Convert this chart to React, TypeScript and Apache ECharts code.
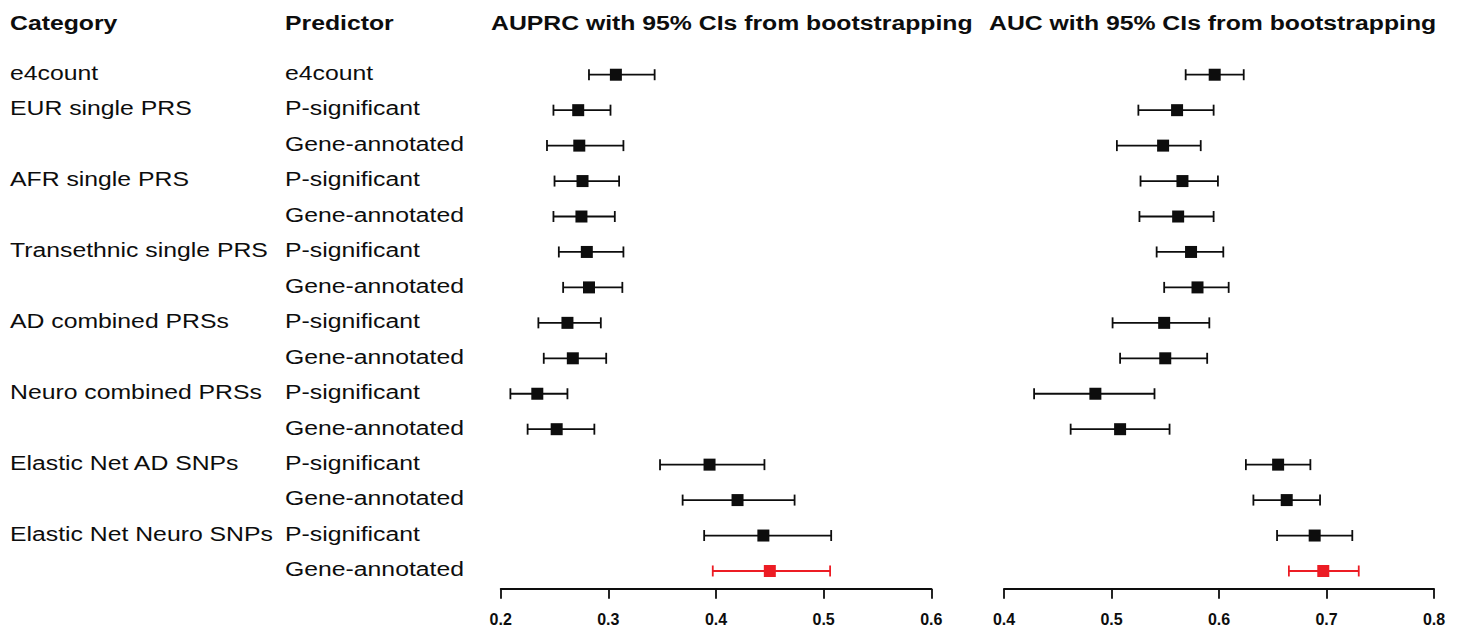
import React, { useEffect, useRef } from "react";
import * as echarts from "echarts";

// ---------- data ----------
const categoryLabels = [
  "e4count",
  "EUR single PRS",
  "",
  "AFR single PRS",
  "",
  "Transethnic single PRS",
  "",
  "AD combined PRSs",
  "",
  "Neuro combined PRSs",
  "",
  "Elastic Net AD SNPs",
  "",
  "Elastic Net Neuro SNPs",
  "",
];
const predictorLabels = [
  "e4count",
  "P-significant",
  "Gene-annotated",
  "P-significant",
  "Gene-annotated",
  "P-significant",
  "Gene-annotated",
  "P-significant",
  "Gene-annotated",
  "P-significant",
  "Gene-annotated",
  "P-significant",
  "Gene-annotated",
  "P-significant",
  "Gene-annotated",
];
const rowIds = predictorLabels.map((p, i) => `${i}:${p}`);

const auprcMid = [0.307, 0.272, 0.273, 0.276, 0.275, 0.280, 0.282, 0.262, 0.267, 0.234, 0.252, 0.394, 0.420, 0.444, 0.450];
const auprcLow = [0.282, 0.249, 0.243, 0.250, 0.249, 0.254, 0.258, 0.235, 0.240, 0.209, 0.225, 0.348, 0.369, 0.389, 0.397];
const auprcHigh = [0.343, 0.302, 0.314, 0.310, 0.306, 0.314, 0.313, 0.293, 0.298, 0.262, 0.287, 0.445, 0.473, 0.507, 0.506];

const aucMid = [0.596, 0.561, 0.548, 0.566, 0.562, 0.574, 0.580, 0.549, 0.550, 0.485, 0.508, 0.655, 0.663, 0.689, 0.697];
const aucLow = [0.569, 0.525, 0.505, 0.527, 0.526, 0.542, 0.549, 0.501, 0.508, 0.428, 0.462, 0.625, 0.632, 0.654, 0.665];
const aucHigh = [0.623, 0.595, 0.583, 0.599, 0.595, 0.604, 0.609, 0.591, 0.589, 0.540, 0.554, 0.685, 0.694, 0.724, 0.730];

const auprcTicks = { min: 0.2, max: 0.6, interval: 0.1 };
const aucTicks = { min: 0.4, max: 0.8, interval: 0.1 };

const headers = {
  category: "Category",
  predictor: "Predictor",
  auprc: "AUPRC with 95% CIs from bootstrapping",
  auc: "AUC with 95% CIs from bootstrapping",
};

const HIGHLIGHT_ROW = 14;

// ---------- styles ----------
const BLACK = "#0d0d0d";
const RED = "#ec1c24";
const FONT = "Liberation Sans, Arial, sans-serif";
const STRETCH = 1.18;

export default function App() {
  const ref = useRef<HTMLDivElement>(null);

  useEffect(() => {
    const chart = echarts.init(ref.current!, null, { renderer: "svg" });

    const renderErr = (params: any, api: any) => {
      const lo = api.coord([api.value(0), api.value(3)]);
      const mid = api.coord([api.value(1), api.value(3)]);
      const hi = api.coord([api.value(2), api.value(3)]);
      const c = params.dataIndex === HIGHLIGHT_ROW ? RED : BLACK;
      const ls = { stroke: c, lineWidth: 1.8 };
      const cap = 5.5;
      const s = 6;
      return {
        type: "group",
        children: [
          { type: "line", shape: { x1: lo[0], y1: lo[1], x2: hi[0], y2: hi[1] }, style: ls },
          { type: "line", shape: { x1: lo[0], y1: lo[1] - cap, x2: lo[0], y2: lo[1] + cap }, style: ls },
          { type: "line", shape: { x1: hi[0], y1: hi[1] - cap, x2: hi[0], y2: hi[1] + cap }, style: ls },
          { type: "rect", shape: { x: mid[0] - s, y: mid[1] - s, width: 2 * s, height: 2 * s }, style: { fill: c } },
        ],
      };
    };

    const xAxisCommon = {
      type: "value",
      position: "bottom",
      splitLine: { show: false },
      axisLine: { show: true, onZero: false, lineStyle: { color: BLACK, width: 1.8 } },
      axisTick: { show: true, inside: false, length: 10, lineStyle: { color: BLACK, width: 1.8 } },
      axisLabel: {
        show: true,
        margin: 23,
        fontSize: 16,
        fontWeight: "bold",
        fontFamily: FONT,
        color: BLACK,
        formatter: (v: number) => v.toFixed(1),
      },
    };
    const yAxisCommon = {
      type: "category",
      data: rowIds,
      inverse: true,
      show: false,
      boundaryGap: true,
    };

    const option: any = {
      animation: false,
      backgroundColor: "#ffffff",
      grid: [
        { left: 500.7, width: 430.6, top: 57, height: 531.7 },
        { left: 1004, width: 430, top: 57, height: 531.7 },
      ],
      xAxis: [
        { ...xAxisCommon, gridIndex: 0, ...auprcTicks },
        { ...xAxisCommon, gridIndex: 1, ...aucTicks },
      ],
      yAxis: [
        { ...yAxisCommon, gridIndex: 0 },
        { ...yAxisCommon, gridIndex: 1 },
      ],
      series: [
        {
          type: "custom",
          name: "AUPRC",
          xAxisIndex: 0,
          yAxisIndex: 0,
          renderItem: renderErr,
          encode: { x: [0, 1, 2], y: 3 },
          data: auprcMid.map((m, i) => [auprcLow[i], m, auprcHigh[i], i]),
        },
        {
          type: "custom",
          name: "AUC",
          xAxisIndex: 1,
          yAxisIndex: 1,
          renderItem: renderErr,
          encode: { x: [0, 1, 2], y: 3 },
          data: aucMid.map((m, i) => [aucLow[i], m, aucHigh[i], i]),
        },
      ],
    };
    chart.setOption(option);

    const txt = (text: string, x: number, y: number, bold: boolean) => ({
      type: "text",
      x,
      y,
      scaleX: STRETCH,
      scaleY: 1,
      silent: true,
      style: {
        text,
        fill: BLACK,
        fontSize: 21,
        fontFamily: FONT,
        fontWeight: bold ? "bold" : "normal",
        align: "left",
        verticalAlign: "middle",
        textAlign: "left",
        textVerticalAlign: "middle",
      },
    });

    const graphics: any[] = [
      txt(headers.category, 10, 23, true),
      txt(headers.predictor, 285, 23, true),
      txt(headers.auprc, 491, 23, true),
      txt(headers.auc, 989, 23, true),
    ];
    rowIds.forEach((id, i) => {
      const yPix = chart.convertToPixel({ yAxisIndex: 0 } as any, id as any) as unknown as number;
      const y = yPix - 2;
      if (categoryLabels[i]) graphics.push(txt(categoryLabels[i], 10, y, false));
      graphics.push(txt(predictorLabels[i], 285, y, false));
    });
    chart.setOption({ graphic: graphics });

    return () => chart.dispose();
  }, []);

  return (
    <div
      ref={ref}
      style={{ position: "fixed", left: 0, top: 0, width: 1463, height: 633, background: "#fff" }}
    />
  );
}
